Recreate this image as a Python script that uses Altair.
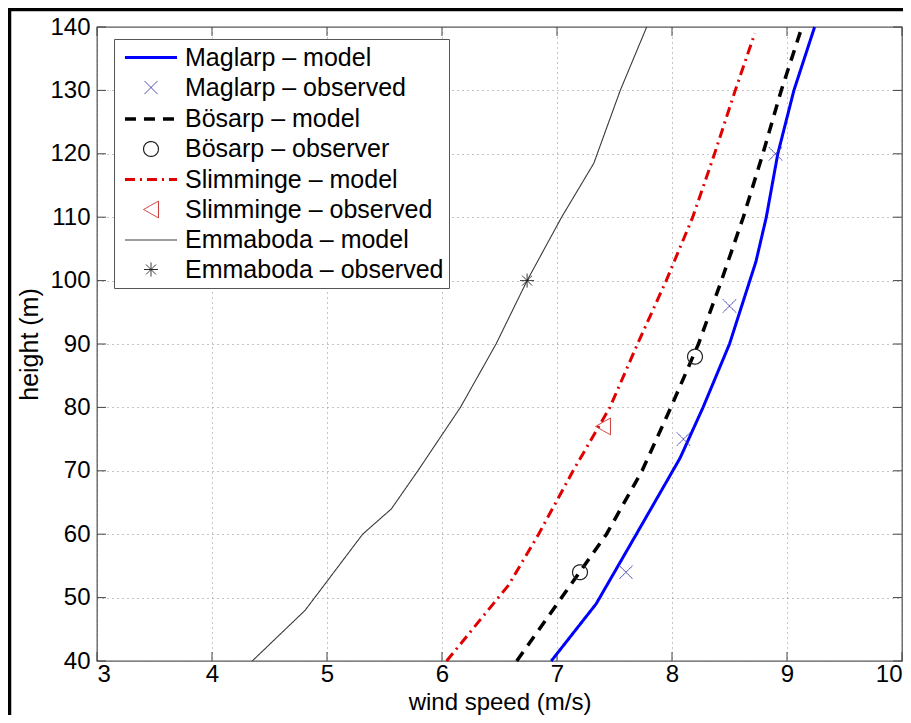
import altair as alt
import pandas as pd

# ---------------- data ----------------
SERIES = ["Maglarp – model", "Maglarp – observed", "Bösarp – model", "Bösarp – observer",
          "Slimminge – model", "Slimminge – observed", "Emmaboda – model", "Emmaboda – observed"]

mag_model_h = [40, 49, 60, 72, 80, 90, 103, 110, 120, 130, 140]
mag_model_ws = [6.95, 7.34, 7.69, 8.07, 8.27, 8.50, 8.73, 8.82, 8.92, 9.06, 9.24]
bos_model_h = [40, 50, 60, 70, 80, 90, 100, 110, 120, 130, 140]
bos_model_ws = [6.65, 7.04, 7.43, 7.74, 7.99, 8.23, 8.43, 8.62, 8.79, 8.95, 9.13]
sli_model_h = [40, 52, 60, 70, 80, 90, 100, 110, 120, 130, 139]
sli_model_ws = [6.04, 6.58, 6.84, 7.14, 7.46, 7.70, 7.95, 8.18, 8.37, 8.55, 8.72]
emm_model_h = [40, 48, 60, 64, 70, 80, 90, 100, 110, 118.5, 130, 140]
emm_model_ws = [4.35, 4.81, 5.31, 5.56, 5.79, 6.16, 6.47, 6.74, 7.04, 7.32, 7.55, 7.78]

mag_obs_h = [54, 75, 96, 120]
mag_obs_ws = [7.60, 8.10, 8.50, 8.90]
bos_obs_h = [54, 88]
bos_obs_ws = [7.20, 8.20]
sli_obs_h = [77]
sli_obs_ws = [7.40]
emm_obs_h = [100]
emm_obs_ws = [6.74]

x_ticks = [3, 4, 5, 6, 7, 8, 9, 10]
y_ticks = [40, 50, 60, 70, 80, 90, 100, 110, 120, 130, 140]

# ---------------- tables ----------------
rows = []
for name, hs, ws in [(SERIES[0], mag_model_h, mag_model_ws), (SERIES[2], bos_model_h, bos_model_ws),
                     (SERIES[4], sli_model_h, sli_model_ws), (SERIES[6], emm_model_h, emm_model_ws)]:
    for h, w in zip(hs, ws):
        rows.append({"series": name, "h": h, "ws": w})
lines_df = pd.DataFrame(rows)

rows = []
for name, hs, ws in [(SERIES[1], mag_obs_h, mag_obs_ws), (SERIES[3], bos_obs_h, bos_obs_ws),
                     (SERIES[5], sli_obs_h, sli_obs_ws), (SERIES[7], emm_obs_h, emm_obs_ws)]:
    for h, w in zip(hs, ws):
        rows.append({"series": name, "h": h, "ws": w})
points_df = pd.DataFrame(rows)

xt_df = pd.DataFrame({"ws": x_ticks})
yt_df = pd.DataFrame({"h": y_ticks})
one_df = pd.DataFrame({"k": [0]})

# ---------------- styling ----------------
W, H = 805, 634
LINE = "M-2.17,0L2.17,0"
XMARK = "M-0.55,-0.55L0.55,0.55M-0.55,0.55L0.55,-0.55"
CIRC = "M-0.62,0A0.62,0.62,0,1,0,0.62,0A0.62,0.62,0,1,0,-0.62,0"
TRI = "M-0.62,0L0.62,-0.7L0.62,0.7Z"
AST = "M0,-0.58L0,0.58M-0.58,0L0.58,0M-0.41,-0.41L0.41,0.41M-0.41,0.41L0.41,-0.41"

stroke_range = ["#0000ff", "#3b3bb0", "#000000", "#222222", "#e00000", "#c83030", "#3a3a3a", "#222222"]
dash_range = [[1, 0], [1, 0], [11, 8], [1, 0], [10, 5, 2, 5], [1, 0], [1, 0], [1, 0]]
width_range = [3, 1, 3.5, 1.2, 3, 1, 1.1, 1]
shape_range = [LINE, XMARK, LINE, CIRC, LINE, TRI, LINE, AST]

legend = alt.Legend(title=None, orient="none", legendX=17, legendY=12,
                    labelFontSize=25, labelColor="black", labelFont="Liberation Sans",
                    symbolSize=576, symbolOffset=18, labelOffset=20, rowPadding=4,
                    padding=5, strokeColor="#555555", fillColor="white",
                    symbolFillColor="transparent", labelLimit=400)

xscale = alt.Scale(domain=[3, 10], nice=False, zero=False)
yscale = alt.Scale(domain=[40, 140], nice=False, zero=False)
xaxis = alt.Axis(values=x_ticks, format="d", labelFontSize=24, ticks=False, domain=False,
                 grid=True, gridDash=[1, 4], gridColor="#8a8a8a", gridWidth=1,
                 labelPadding=1, title="wind speed (m/s)", titleFontSize=24,
                 titleFontWeight="normal", titlePadding=4, labelColor="black", titleColor="black")
yaxis = alt.Axis(values=y_ticks, format="d", labelFontSize=24, ticks=False, domain=False,
                 grid=True, gridDash=[1, 4], gridColor="#8a8a8a", gridWidth=1,
                 labelPadding=7, title="height (m)", titleFontSize=25,
                 titleFontWeight="normal", titlePadding=7, labelColor="black", titleColor="black")

X = alt.X("ws:Q", scale=xscale, axis=xaxis)
Y = alt.Y("h:Q", scale=yscale, axis=yaxis)

stroke_enc = alt.Stroke("series:N", scale=alt.Scale(domain=SERIES, range=stroke_range), legend=legend)
dash_enc = alt.StrokeDash("series:N", scale=alt.Scale(domain=SERIES, range=dash_range), legend=legend)
width_enc = alt.StrokeWidth("series:N", scale=alt.Scale(type="ordinal", domain=SERIES, range=width_range), legend=legend)
shape_enc = alt.Shape("series:N", scale=alt.Scale(domain=SERIES, range=shape_range), legend=legend)

lines = alt.Chart(lines_df).mark_line(opacity=1).encode(
    x=X, y=Y, stroke=stroke_enc, strokeDash=dash_enc, strokeWidth=width_enc, order="h:Q")

points = alt.Chart(points_df).mark_point(filled=False, opacity=1, size=576).encode(
    x=X, y=Y, stroke=stroke_enc, strokeDash=dash_enc, strokeWidth=width_enc, shape=shape_enc)

tick_col = "#444444"
top_ticks = alt.Chart(xt_df).mark_rule(color=tick_col, strokeWidth=1).encode(
    x=X, y=alt.value(0), y2=alt.value(9))
bot_ticks = alt.Chart(xt_df).mark_rule(color=tick_col, strokeWidth=1).encode(
    x=X, y=alt.value(H), y2=alt.value(H - 9))
left_ticks = alt.Chart(yt_df).mark_rule(color=tick_col, strokeWidth=1).encode(
    y=Y, x=alt.value(0), x2=alt.value(9))
right_ticks = alt.Chart(yt_df).mark_rule(color=tick_col, strokeWidth=1).encode(
    y=Y, x=alt.value(W), x2=alt.value(W - 9))

frame_top = alt.Chart(one_df).mark_rule(color="black", strokeWidth=3.5).encode(
    x=alt.value(-89), x2=alt.value(W + 20), y=alt.value(-17.5))
frame_left = alt.Chart(one_df).mark_rule(color="black", strokeWidth=3.5).encode(
    x=alt.value(-87.5), y=alt.value(-19), y2=alt.value(H + 70))

chart = alt.layer(
    top_ticks, bot_ticks, left_ticks, right_ticks, lines, points, frame_top, frame_left
).properties(
    width=W, height=H,
    autosize=alt.AutoSizeParams(type="none"),
    padding={"left": 89, "top": 19, "right": 1, "bottom": 54},
).configure(
    font="Liberation Sans",
).configure_view(
    stroke="#555555", strokeWidth=1.3
)

chart.save("out.html", embed_options={"renderer": "svg", "actions": False})
